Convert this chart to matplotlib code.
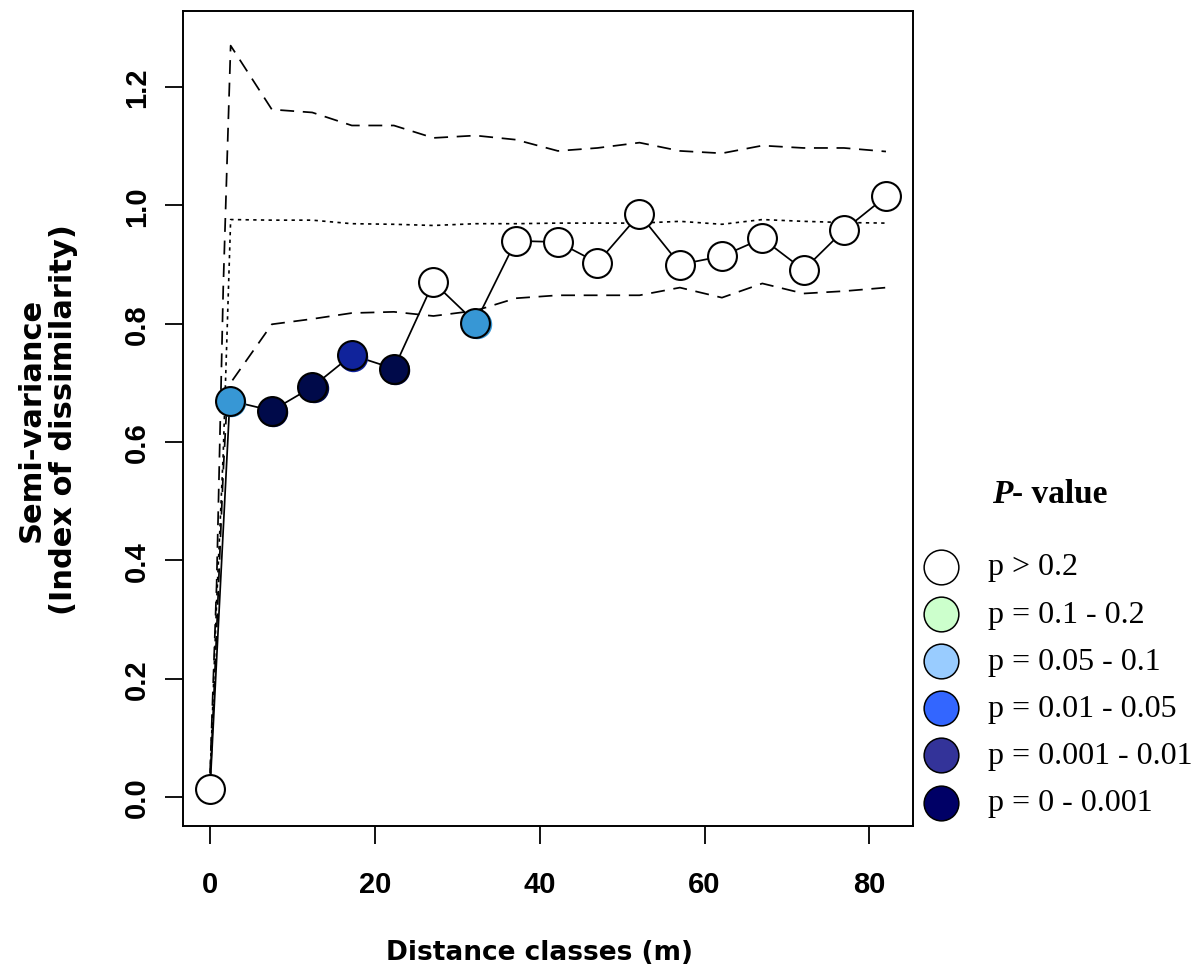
import matplotlib
matplotlib.use("Agg")
import matplotlib.pyplot as plt
from matplotlib.lines import Line2D
from matplotlib.transforms import offset_copy

# Observed semi-variance per distance class
dist_class = [0.0, 2.4, 7.5, 12.4, 17.2, 22.3, 27.1, 32.2, 37.1, 42.2, 47.0,
              52.1, 57.0, 62.1, 67.0, 72.0, 76.9, 82.0]
semivar = [0.014, 0.670, 0.653, 0.693, 0.747, 0.724, 0.870, 0.802, 0.940,
           0.938, 0.903, 0.985, 0.900, 0.914, 0.944, 0.891, 0.958, 1.015]
# p-value class of each observed point (index into point colours)
p_class = [0, 2, 5, 5, 4, 5, 0, 2, 0, 0, 0, 0, 0, 0, 0, 0, 0, 0]

# Randomisation envelope (upper / median / lower)
env_x = [0.0, 0.8, 1.6, 2.1, 2.5, 7.5, 12.4, 17.2, 22.3, 27.1, 32.2, 37.1,
         42.2, 47.0, 52.1, 57.0, 62.1, 67.0, 72.0, 76.9, 82.0]
env_upper = [0.04, 0.36, 0.86, 1.09, 1.27, 1.162, 1.157, 1.135, 1.135, 1.114,
             1.118, 1.111, 1.092, 1.097, 1.106, 1.092, 1.088, 1.101, 1.097,
             1.097, 1.091]
env_median = [0.03, 0.33, 0.58, 0.80, 0.976, 0.975, 0.975, 0.969, 0.968,
              0.966, 0.969, 0.969, 0.970, 0.970, 0.970, 0.973, 0.968, 0.976,
              0.973, 0.971, 0.970]
env_lower = [0.02, 0.28, 0.55, 0.68, 0.70, 0.799, 0.808, 0.818, 0.820, 0.813,
             0.822, 0.843, 0.848, 0.848, 0.848, 0.861, 0.844, 0.868, 0.851,
             0.855, 0.861]

# Colours used for the plotted points, by p-value class
point_colors = ["#FFFFFF", "#CCFFCC", "#3797D5", "#3366FF", "#10239B", "#000A4A"]

# Legend
legend_labels = ["p > 0.2", "p = 0.1 - 0.2", "p = 0.05 - 0.1", "p = 0.01 - 0.05",
                 "p = 0.001 - 0.01", "p = 0 - 0.001"]
legend_colors = ["#FFFFFF", "#CCFFCC", "#99CCFF", "#3366FF", "#333399", "#000066"]

x_ticks = [0, 20, 40, 60, 80]
y_ticks = [0.0, 0.2, 0.4, 0.6, 0.8, 1.0, 1.2]

W, H = 1204, 970
fig = plt.figure(figsize=(W / 100, H / 100), dpi=100)
ax = fig.add_axes([183 / W, (H - 827) / H, (913 - 183) / W, (827 - 12) / H])

sans = ["Liberation Sans", "DejaVu Sans"]
label_font = ["DejaVu Sans"]
serif = ["Liberation Serif", "DejaVu Serif"]

# envelope lines
ax.plot(env_x, env_upper, color="black", lw=1.25, ls=(0, (8, 5)), zorder=1)
ax.plot(env_x, env_lower, color="black", lw=1.25, ls=(0, (8, 5)), zorder=1)
ax.plot(env_x, env_median, color="black", lw=1.2, ls=(0, (2.0, 2.6)), zorder=1)

# observed line
ax.plot(dist_class, semivar, color="black", lw=1.25, zorder=2)

# points: filled ones have a slightly offset fill beneath the outline
shadow_tr = offset_copy(ax.transData, fig=fig, x=1.5, y=-1.5, units="dots")
for xv, yv, c in zip(dist_class, semivar, p_class):
    col = point_colors[c]
    if c != 0:
        ax.plot([xv], [yv], "o", ms=21.2, mfc=col, mec=col, mew=0,
                transform=shadow_tr, zorder=3)
    ax.plot([xv], [yv], "o", ms=20.8, mfc=col, mec="black", mew=1.5, zorder=4)

ax.set_xlim(-3.28, 85.28)
ax.set_ylim(-0.049, 1.3285)
ax.set_xticks(x_ticks)
ax.set_yticks(y_ticks)
ax.set_xticklabels([str(v) for v in x_ticks], fontsize=21, fontweight="bold",
                   family=sans)
ax.set_yticklabels([f"{v:.1f}" for v in y_ticks], fontsize=21, fontweight="bold",
                   family=sans, rotation=90, va="center")
ax.tick_params(axis="x", length=13, width=1.3, pad=19)
ax.tick_params(axis="y", length=13, width=1.3, pad=10)
for s in ax.spines.values():
    s.set_linewidth(1.4)

fig.text(540 / W, 1 - 953 / H, "Distance classes (m)", ha="center", va="center",
         fontsize=19, fontweight="bold", family=label_font)
fig.text(47 / W, 1 - 420 / H, "Semi-variance\n(Index of dissimilarity)",
         ha="center", va="center", rotation=90, fontsize=22, fontweight="bold",
         family=label_font, linespacing=1.15)

# legend title with italic P
fig.canvas.draw()
renderer = fig.canvas.get_renderer()
t1 = fig.text(992 / W, 1 - 495 / H, "P", ha="left", va="center", fontsize=24,
              fontweight="bold", fontstyle="italic", family=serif)
bb = t1.get_window_extent(renderer=renderer)
fig.text(bb.x1 / W, 1 - 495 / H, "- value", ha="left", va="center", fontsize=24,
         fontweight="bold", family=serif)

# legend entries
row0, step = 568.0, 47.1
for i, (lab, col) in enumerate(zip(legend_labels, legend_colors)):
    yy = 1 - (row0 + i * step) / H
    fig.add_artist(Line2D([941.5 / W], [yy], marker="o", ms=25, mfc=col,
                          mec="black", mew=1.1, ls="none",
                          transform=fig.transFigure))
    fig.text(988 / W, yy, lab, ha="left", va="center", fontsize=23, family=serif)

fig.savefig("out.png", dpi=100)
